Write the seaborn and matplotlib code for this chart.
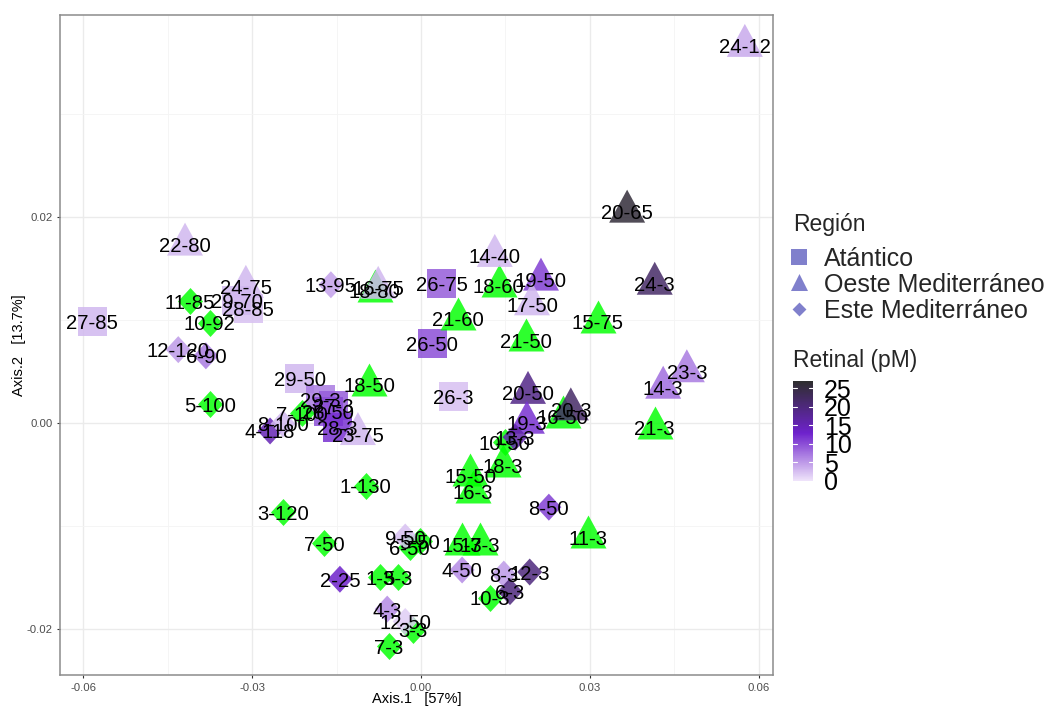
import numpy as np
import pandas as pd
import matplotlib
matplotlib.use("Agg")
import matplotlib.pyplot as plt
from matplotlib.colors import LinearSegmentedColormap, Normalize
from matplotlib.cm import ScalarMappable
from matplotlib.path import Path
import seaborn as sns

sns.set_theme(style="whitegrid")
plt.rcParams["font.family"] = ["Liberation Sans", "DejaVu Sans"]

# ---- PCoA sample scores ----
labels = [
    # Atlántico
    "27-85", "29-50", "29-3", "27-3", "28-50", "28-3", "28-85", "29-70",
    "26-75", "26-50", "26-3",
    # Oeste Mediterráneo
    "24-12", "20-65", "24-3", "23-3", "14-3", "21-3", "15-75", "14-40",
    "19-50", "18-60", "17-50", "21-60", "21-50", "20-50", "20-3", "16-50",
    "19-3", "18-3", "15-50", "16-3", "11-3", "22-80", "24-75", "23-75",
    "18-50", "16-75", "18-80", "15-3", "17-3",
    # Este Mediterráneo
    "13-95", "11-85", "10-92", "12-120", "6-90", "5-100", "4-118", "8-100",
    "7-100", "1-130", "3-120", "7-50", "9-50", "5-50", "6-50", "2-25",
    "1-3", "5-3", "4-3", "12-50", "3-3", "7-3", "4-50", "8-3", "12-3",
    "6-3", "10-3", "8-50", "13-3", "10-50",
]
axis1 = [
    -0.0584, -0.0215, -0.0178, -0.0156, -0.0165, -0.0149, -0.0307, -0.0327,
    0.0037, 0.0020, 0.0057,
    0.0575, 0.0366, 0.0415, 0.0472, 0.0430, 0.0415, 0.0314, 0.0131,
    0.0213, 0.0138, 0.0197, 0.0066, 0.0186, 0.0190, 0.0266, 0.0252,
    0.0188, 0.0146, 0.0087, 0.0092, 0.0296, -0.0419, -0.0311, -0.0112,
    -0.0092, -0.0076, -0.0082, 0.0073, 0.0105,
    -0.0160, -0.0410, -0.0375, -0.0431, -0.0382, -0.0375, -0.0268, -0.0245,
    -0.0211, -0.0098, -0.0245, -0.0172, -0.0028, -0.0002, -0.0020, -0.0144,
    -0.0073, -0.0041, -0.0060, -0.0028, -0.0014, -0.0057, 0.0073, 0.0147, 0.0193,
    0.0158, 0.0122, 0.0227, 0.0167, 0.0149,
]
axis2 = [
    0.0098, 0.0043, 0.0023, 0.0017, 0.0011, -0.0005, 0.0111, 0.0119,
    0.0135, 0.0077, 0.0025,
    0.0366, 0.0205, 0.0135, 0.0050, 0.0034, -0.0005, 0.0098, 0.0162,
    0.0139, 0.0133, 0.0115, 0.0101, 0.0080, 0.0029, 0.0013, 0.0006,
    0.0000, -0.0042, -0.0051, -0.0067, -0.0111, 0.0173, 0.0132, -0.0011,
    0.0037, 0.0131, 0.0128, -0.0118, -0.0118,
    0.0134, 0.0118, 0.0097, 0.0071, 0.0065, 0.0018, -0.0008, -0.0001,
    0.0009, -0.0061, -0.0087, -0.0117, -0.0111, -0.0115, -0.0121, -0.0152,
    -0.0150, -0.0150, -0.0181, -0.0193, -0.0201, -0.0217, -0.0143, -0.0147, -0.0145,
    -0.0164, -0.0170, -0.0082, -0.0014, -0.0019,
]
region = (["Atántico"] * 11 + ["Oeste Mediterráneo"] * 29
          + ["Este Mediterráneo"] * 30)
nan = np.nan
retinal = [
    3, 3, 7, 9, 10, 12, 2.5, 3,
    9, 10, 2.5,
    4, 26, 22, 7, 8, nan, nan, 3,
    11, nan, 3, nan, nan, 19, 22, nan,
    12, nan, nan, nan, nan, 3, 3, 3,
    nan, 3, nan, nan, nan,
    4.5, nan, nan, 5, 7, nan, 15, 3,
    nan, nan, nan, nan, 2.5, nan, nan, 13,
    nan, nan, 6, 1.5, nan, nan, 6, 5, 20,
    20, nan, 11, 16, nan,
]
region_order = ["Atántico", "Oeste Mediterráneo", "Este Mediterráneo"]
x_ticks = [-0.06, -0.03, 0.00, 0.03, 0.06]
y_ticks = [-0.02, 0.00, 0.02]
cbar_ticks = [0, 5, 10, 15, 20, 25]

df = pd.DataFrame({"label": labels, "Axis.1": axis1, "Axis.2": axis2,
                   "region": region, "retinal": retinal})

# ---- styling ----
cmap = LinearSegmentedColormap.from_list(
    "retinal", [(0.0, "#EFE4FA"), (0.48, "#6E22CC"), (1.0, "#2E2E2E")])
norm = Normalize(vmin=0, vmax=27)
na_color = "#00FF00"

tri_path = Path([(0, 22), (-18, -11), (18, -11), (0, 22)], closed=True)
sq_path = Path([(-1, -1), (1, -1), (1, 1), (-1, 1), (-1, -1)], closed=True)
dia_path = Path([(0, 13.5), (12.5, 0), (0, -13.5), (-12.5, 0), (0, 13.5)],
                closed=True)
shapes = {"Atántico": (sq_path, 436),
          "Oeste Mediterráneo": (tri_path, 1003),
          "Este Mediterráneo": (dia_path, 378)}

W, H = 1052, 707
fig = plt.figure(figsize=(W / 100, H / 100), dpi=100)
ax = fig.add_axes([60 / W, 1 - 675 / H, 713 / W, 660 / H])
ax.set_facecolor("white")

for reg in region_order:
    sub = df[df["region"] == reg]
    path, size = shapes[reg]
    has = sub[sub["retinal"].notna()]
    miss = sub[sub["retinal"].isna()]
    sns.scatterplot(data=miss, x="Axis.1", y="Axis.2", color=na_color,
                    marker=path, s=size, alpha=0.82, linewidth=0,
                    legend=False, ax=ax, zorder=3)
    sns.scatterplot(data=has, x="Axis.1", y="Axis.2", hue="retinal",
                    palette=cmap, hue_norm=norm, marker=path, s=size,
                    alpha=0.85, linewidth=0, legend=False, ax=ax, zorder=3)

for _, r in df.iterrows():
    ax.text(r["Axis.1"], r["Axis.2"], r["label"], ha="center",
            va="center_baseline", fontsize=14.6, color="black", zorder=5)

ax.set_xlim(-0.0641, 0.0625)
ax.set_ylim(-0.0245, 0.0396)
ax.set_xticks(x_ticks)
ax.set_xticklabels([f"{v:.2f}" for v in x_ticks])
ax.set_yticks(y_ticks)
ax.set_yticklabels([f"{v:.2f}" for v in y_ticks])
ax.set_xticks([-0.045, -0.015, 0.015, 0.045], minor=True)
ax.set_yticks([-0.01, 0.01, 0.03], minor=True)
ax.grid(which="major", color="#EBEBEB", linewidth=1.0)
ax.grid(which="minor", color="#F4F4F4", linewidth=0.6)
ax.tick_params(which="major", length=2.5, width=0.8, color="#333333",
               labelsize=8.2, labelcolor="#4D4D4D", pad=3,
               bottom=True, left=True)
ax.tick_params(which="minor", length=0)
for sp in ax.spines.values():
    sp.set_color("#8C8C8C")
    sp.set_linewidth(1.1)

ax.set_xlabel("Axis.1   [57%]", fontsize=10.5, color="black")
ax.set_ylabel("Axis.2   [13.7%]", fontsize=10.5, color="black")
ax.xaxis.set_label_coords(0.5, -0.026)
ax.yaxis.set_label_coords(-0.047, 0.5)

# ---- legends ----
lax = fig.add_axes([0, 0, 1, 1])
lax.set_axis_off()
lax.set_xlim(0, W)
lax.set_ylim(H, 0)
lax.text(793, 222, "Región", fontsize=16.5, ha="left", va="center_baseline")
key_y = [257, 282, 309]
key_mk = [("s", 125), ("^", 150), ("D", 50)]
for reg, yy, (mk, sz) in zip(region_order, key_y, key_mk):
    lax.scatter([799], [yy], marker=mk, s=sz, color="#8080CC", linewidth=0)
    lax.text(824, yy, reg, fontsize=18, ha="left", va="center_baseline")
lax.text(793, 358, "Retinal (pM)", fontsize=16.5, ha="left",
         va="center_baseline")

cax = fig.add_axes([793 / W, 1 - 481 / H, 20 / W, 100 / H])
cb = fig.colorbar(ScalarMappable(norm=norm, cmap=cmap), cax=cax,
                  ticks=cbar_ticks)
cb.outline.set_visible(False)
cax.tick_params(length=0, labelsize=18, pad=8, colors="black")
for t in cbar_ticks:
    cax.axhline(t, xmin=0, xmax=0.2, color="white", linewidth=0.8)
    cax.axhline(t, xmin=0.8, xmax=1, color="white", linewidth=0.8)

fig.savefig("out.png", dpi=100, facecolor="white")
